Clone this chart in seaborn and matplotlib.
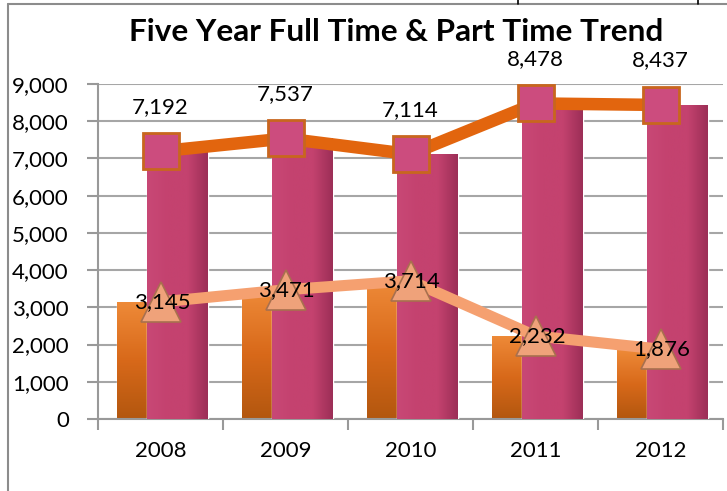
import numpy as np
import pandas as pd
import matplotlib
matplotlib.use("Agg")
import matplotlib.pyplot as plt
from matplotlib.lines import Line2D
from matplotlib.colors import LinearSegmentedColormap
from matplotlib.ticker import FuncFormatter, FixedLocator
import seaborn as sns

# ---- data ----
years = ["2008", "2009", "2010", "2011", "2012"]
full_time = [7192, 7537, 7114, 8478, 8437]
part_time = [3145, 3471, 3714, 2232, 1876]
y_ticks = [0, 1000, 2000, 3000, 4000, 5000, 6000, 7000, 8000, 9000]
title = "Five Year Full Time & Part Time Trend"

sns.set_theme(style="white")
plt.rcParams['font.family'] = ['Lato', 'DejaVu Sans']

W, H = 727, 491
FS = 16
fig = plt.figure(figsize=(W / 100, H / 100), dpi=100)
ax = fig.add_axes([98 / W, 1 - 419 / H, 625 / W, 335 / H])

pos = np.arange(len(years))
df = pd.DataFrame({"year": years, "pos": pos, "full": full_time, "part": part_time})

# bars (part time behind, full time in front, offset like the 3D clustered look)
sns.barplot(x=df["pos"] - 0.108, y=df["part"], native_scale=True, width=0.488,
            color="#E07020", saturation=1, errorbar=None, ax=ax, zorder=2)
n_part = len(ax.patches)
sns.barplot(x=df["pos"] + 0.134, y=df["full"], native_scale=True, width=0.488,
            color="#C4426F", saturation=1, errorbar=None, ax=ax, zorder=3)

orange_cmap = LinearSegmentedColormap.from_list("o", ["#B3570F", "#D8691A", "#EE8A38"])
mag_cmap = LinearSegmentedColormap.from_list("m", ["#C84876", "#C4426F", "#C4426F", "#9C2F57"])
for i, p in enumerate(ax.patches):
    x0, y0 = p.get_x(), p.get_y()
    w, h = p.get_width(), p.get_height()
    if i < n_part:
        grad = np.linspace(0, 1, 100).reshape(-1, 1)
        im = ax.imshow(grad, extent=[x0, x0 + w, y0, y0 + h], origin="lower",
                       aspect="auto", cmap=orange_cmap, zorder=2.1)
    else:
        grad = np.linspace(0, 1, 100).reshape(1, -1)
        im = ax.imshow(grad, extent=[x0, x0 + w, y0, y0 + h], origin="lower",
                       aspect="auto", cmap=mag_cmap, zorder=3.1)
    im.set_clip_path(p)

# lines with markers
sns.lineplot(x=df["pos"], y=df["full"], color="#E2650E", linewidth=9, ax=ax,
             marker="s", markersize=26, markerfacecolor="#CC4C7E",
             markeredgecolor="#C8661E", markeredgewidth=2, zorder=5)
sns.lineplot(x=df["pos"], y=df["part"], color="#F5A070", linewidth=8, ax=ax,
             marker="^", markersize=29, markerfacecolor="#EFA27A",
             markeredgecolor="#A8704E", markeredgewidth=1.2, zorder=6)

# data labels
for i, v in enumerate(full_time):
    ax.annotate(f"{v:,}", (pos[i], v), xytext=(0, 32), textcoords="offset points",
                ha="center", va="center", fontsize=FS, color="black", zorder=10,
                annotation_clip=False)
for i, v in enumerate(part_time):
    ax.annotate(f"{v:,}", (pos[i], v), xytext=(1, 0), textcoords="offset points",
                ha="center", va="center", fontsize=FS, color="black", zorder=10,
                annotation_clip=False)

# axes styling
ax.set_xlim(-0.5, len(years) - 0.5)
ax.set_ylim(0, 9000)
ax.set_yticks(y_ticks)
ax.yaxis.set_major_formatter(FuncFormatter(lambda v, _: f"{int(v):,}"))
ax.set_xticks(pos)
ax.set_xticklabels(years)
ax.xaxis.set_minor_locator(FixedLocator(np.arange(-0.5, len(years), 1.0)))
ax.set_xlabel("")
ax.set_ylabel("")
ax.set_axisbelow(True)
ax.yaxis.grid(True, color="#A6A6A6", linewidth=1.5)
ax.xaxis.grid(False)
for s in ["top", "right"]:
    ax.spines[s].set_visible(False)
for s in ["left", "bottom"]:
    ax.spines[s].set_color("#999999")
    ax.spines[s].set_linewidth(1.5)
ax.tick_params(axis="y", which="major", left=True, direction="out", length=8,
               width=1.5, color="#999999", labelsize=FS, pad=13, labelcolor="black")
ax.tick_params(axis="x", which="major", bottom=True, length=0, labelsize=FS,
               pad=16, labelcolor="black")
ax.tick_params(axis="x", which="minor", bottom=True, direction="out", length=8,
               width=1.5, color="#999999")
ax.set_facecolor("white")

# title, fitted to the reference width
t = fig.text(396.5 / W, 1 - 32 / H, title, ha="center", va="center",
             fontweight="bold", fontsize=21, color="black")
fig.canvas.draw()
bb = t.get_window_extent()
t.set_fontsize(21 * 533 / bb.width)

# outer chart border and small artifacts above
fig.add_artist(Line2D([8 / W, 8 / W], [0, 1 - 4 / H], color="#8C8C8C", linewidth=1.5))
fig.add_artist(Line2D([8 / W, 1], [1 - 4 / H, 1 - 4 / H], color="#8C8C8C", linewidth=1.5))
for xx in (518, 698):
    fig.add_artist(Line2D([xx / W, xx / W], [1 - 4 / H, 1], color="black", linewidth=1.2))

fig.savefig("out.png", dpi=100, facecolor="white")
